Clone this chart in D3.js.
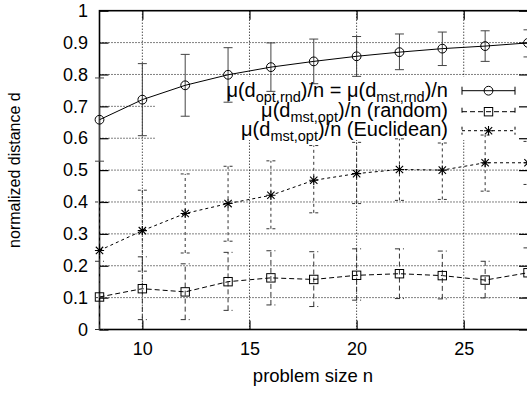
<!DOCTYPE html>
<html>
<head>
<meta charset="utf-8">
<script src="https://cdn.jsdelivr.net/npm/d3@7"></script>
<style>
  body { margin: 0; background: #fff; }
  svg { display: block; font-family: "Liberation Sans", Arial, Helvetica, sans-serif; }
</style>
</head>
<body>
<div id="chart"></div>
<script>
// problem sizes
const sizes = [8, 10, 12, 14, 16, 18, 20, 22, 24, 26, 28];

// mu(d_opt,rnd)/n = mu(d_mst,rnd)/n
const optRndMean = [0.658, 0.721, 0.766, 0.799, 0.823, 0.841, 0.857, 0.870, 0.881, 0.889, 0.899];
const optRndLow  = [0.528, 0.608, 0.669, 0.713, 0.747, 0.771, 0.794, 0.815, 0.828, 0.841, 0.855];
const optRndHigh = [0.789, 0.834, 0.863, 0.884, 0.899, 0.911, 0.919, 0.927, 0.933, 0.937, 0.940];

// mu(d_mst,opt)/n (random)
const randomMean = [0.102, 0.128, 0.118, 0.150, 0.162, 0.157, 0.170, 0.175, 0.169, 0.155, 0.178];
const randomLow  = [0.000, 0.031, 0.031, 0.060, 0.077, 0.072, 0.092, 0.097, 0.096, 0.099, 0.100];
const randomHigh = [0.214, 0.228, 0.206, 0.242, 0.247, 0.244, 0.253, 0.253, 0.246, 0.214, 0.256];

// mu(d_mst,opt)/n (Euclidean)
const euclidMean = [0.248, 0.310, 0.364, 0.395, 0.421, 0.468, 0.489, 0.502, 0.500, 0.523, 0.523];
const euclidLow  = [0.100, 0.183, 0.240, 0.277, 0.316, 0.366, 0.395, 0.405, 0.408, 0.434, 0.455];
const euclidHigh = [0.400, 0.437, 0.488, 0.512, 0.529, 0.577, 0.587, 0.598, 0.585, 0.610, 0.590];

const xTicks = [10, 15, 20, 25];
const yTicks = [0, 0.1, 0.2, 0.3, 0.4, 0.5, 0.6, 0.7, 0.8, 0.9, 1];

const width = 527, height = 394;
const plotL = 99.5, plotR = 528, plotT = 10.7, plotB = 329.5;

const svg = d3.select("#chart").append("svg")
    .attr("width", width)
    .attr("height", height);

const x = d3.scaleLinear().domain([8, 28]).range([plotL, plotR]);
const y = d3.scaleLinear().domain([0, 1]).range([plotB, plotT]);

// grid
const grid = svg.append("g")
    .attr("stroke", "#000")
    .attr("stroke-width", 1)
    .attr("stroke-dasharray", "1,2");
grid.selectAll("line.gy")
    .data(yTicks.filter(d => d > 0 && d < 1))
    .join("line")
    .attr("class", "gy")
    .attr("x1", plotL).attr("x2", plotR)
    .attr("y1", d => y(d)).attr("y2", d => y(d));
grid.selectAll("line.gx")
    .data(xTicks)
    .join("line")
    .attr("class", "gx")
    .attr("x1", d => x(d)).attr("x2", d => x(d))
    .attr("y1", plotT).attr("y2", plotB);

// key area hides the grid
svg.append("rect")
    .attr("x", 155).attr("y", 77)
    .attr("width", plotR - 155).attr("height", 63)
    .attr("fill", "#fff");

// axes
const yAxis = svg.append("g")
    .attr("transform", `translate(${plotL},0)`)
    .call(d3.axisLeft(y).tickValues(yTicks).tickSize(-9).tickPadding(11.5)
        .tickFormat(d => d === 0 || d === 1 ? d3.format("d")(d) : d3.format(".1f")(d)));
const yAxisR = svg.append("g")
    .attr("transform", `translate(${plotR},0)`)
    .call(d3.axisRight(y).tickValues(yTicks).tickSize(-9).tickFormat(""));
const xAxis = svg.append("g")
    .attr("transform", `translate(0,${plotB})`)
    .call(d3.axisBottom(x).tickValues(xTicks).tickSize(-9).tickPadding(13));
const xAxisT = svg.append("g")
    .attr("transform", `translate(0,${plotT})`)
    .call(d3.axisTop(x).tickValues(xTicks).tickSize(-9).tickFormat(""));

[yAxis, yAxisR, xAxis, xAxisT].forEach(g => {
    g.select(".domain").remove();
    g.selectAll(".tick line").attr("stroke", "#000").attr("stroke-width", 1.2);
    g.selectAll("text")
        .attr("fill", "#000")
        .attr("font-family", "Liberation Sans, Arial, sans-serif")
        .attr("font-size", 18);
});

svg.append("rect")
    .attr("x", plotL).attr("y", plotT)
    .attr("width", plotR - plotL).attr("height", plotB - plotT)
    .attr("fill", "none")
    .attr("stroke", "#000")
    .attr("stroke-width", 1.6);

// axis titles
svg.append("text")
    .attr("x", 313)
    .attr("y", 382)
    .attr("text-anchor", "middle")
    .attr("font-size", 18.5)
    .text("problem size n");

svg.append("text")
    .attr("transform", `translate(20,${(plotT + plotB) / 2}) rotate(-90)`)
    .attr("text-anchor", "middle")
    .attr("font-size", 16)
    .text("normalized distance d");

// marker drawers
function drawMarker(g, kind, cx, cy) {
    if (kind === "circle") {
        g.append("circle").attr("cx", cx).attr("cy", cy).attr("r", 4.4)
            .attr("fill", "none").attr("stroke", "#000").attr("stroke-width", 1);
    } else if (kind === "square") {
        g.append("rect").attr("x", cx - 4.2).attr("y", cy - 4.2)
            .attr("width", 8.4).attr("height", 8.4)
            .attr("fill", "none").attr("stroke", "#000").attr("stroke-width", 1);
    } else {
        const r = 4.6;
        const p = `M${cx - r},${cy}H${cx + r}M${cx},${cy - r}V${cy + r}` +
            `M${cx - r * 0.8},${cy - r * 0.8}L${cx + r * 0.8},${cy + r * 0.8}` +
            `M${cx - r * 0.8},${cy + r * 0.8}L${cx + r * 0.8},${cy - r * 0.8}`;
        g.append("path").attr("d", p).attr("fill", "none")
            .attr("stroke", "#000").attr("stroke-width", 1.1);
    }
}

const series = [
    { name: "optRnd", mean: optRndMean, low: optRndLow, high: optRndHigh, marker: "circle", dash: null, barColor: "#444" },
    { name: "random", mean: randomMean, low: randomLow, high: randomHigh, marker: "square", dash: "5,3", barColor: "#333" },
    { name: "euclid", mean: euclidMean, low: euclidLow, high: euclidHigh, marker: "star", dash: "3,3", barColor: "#333" }
];

const line = d3.line().x(d => x(d[0])).y(d => y(d[1]));
const capW = 4.5;

series.forEach(s => {
    const g = svg.append("g");
    const pts = sizes.map((n, i) => [n, s.mean[i], s.low[i], s.high[i]]);

    // error bars
    const bars = g.append("g")
        .attr("stroke", s.barColor)
        .attr("stroke-width", 1)
        .attr("fill", "none")
        .attr("stroke-dasharray", s.dash);
    bars.selectAll("path")
        .data(pts)
        .join("path")
        .attr("d", d => {
            const cx = x(d[0]), lo = y(d[2]), hi = y(d[3]);
            return `M${cx},${lo}V${hi}M${cx - capW},${hi}H${cx + capW}M${cx - capW},${lo}H${cx + capW}`;
        });

    // connecting line
    g.append("path")
        .datum(pts)
        .attr("d", line)
        .attr("fill", "none")
        .attr("stroke", "#000")
        .attr("stroke-width", 1)
        .attr("stroke-dasharray", s.dash);

    pts.forEach(d => drawMarker(g, s.marker, x(d[0]), y(d[1])));
});

// key
const keyRows = [
    { parts: [["μ(d", 0], ["opt,rnd", 1], [")/n = μ(d", 0], ["mst,rnd", 1], [")/n", 0]], y: 96.5, sampleY: 90.7 },
    { parts: [["μ(d", 0], ["mst,opt", 1], [")/n (random)", 0]], y: 116.5, sampleY: 111.7 },
    { parts: [["μ(d", 0], ["mst,opt", 1], [")/n (Euclidean)", 0]], y: 135.5, sampleY: 130.7 }
];

keyRows.forEach((row, i) => {
    const t = svg.append("text")
        .attr("x", 448)
        .attr("y", row.y)
        .attr("text-anchor", "end")
        .attr("font-size", 20);
    let shifted = false;
    row.parts.forEach(([str, sub]) => {
        const ts = t.append("tspan").text(str);
        if (sub && !shifted) { ts.attr("dy", 5).attr("font-size", 14.5); shifted = true; }
        else if (!sub && shifted) { ts.attr("dy", -5); shifted = false; }
    });

    const s = series[i];
    const kg = svg.append("g");
    const x1 = 462, x2 = 515, sy = row.sampleY;
    kg.append("path")
        .attr("d", `M${x1},${sy}H${x2}M${x1},${sy - 4}V${sy + 4}M${x2},${sy - 4}V${sy + 4}`)
        .attr("fill", "none")
        .attr("stroke", "#000")
        .attr("stroke-width", 1)
        .attr("stroke-dasharray", s.dash);
    drawMarker(kg, s.marker, (x1 + x2) / 2, sy);
});
</script>
</body>
</html>
